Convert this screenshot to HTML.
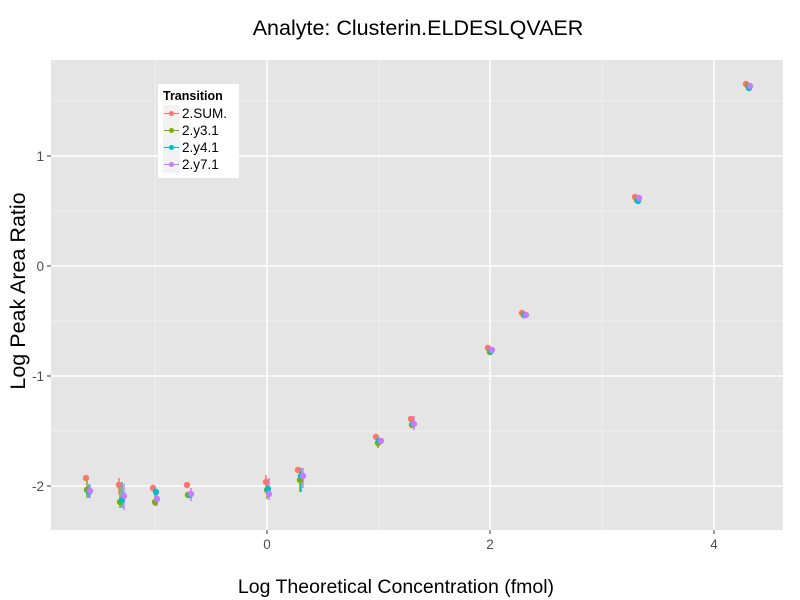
<!DOCTYPE html>
<html><head><meta charset="utf-8"><style>body{margin:0;background:#fff}svg{display:block}text{font-family:"Liberation Sans",sans-serif}</style></head><body>
<svg width="800" height="600" xmlns="http://www.w3.org/2000/svg">
<rect width="800" height="600" fill="#fff"/>
<text x="418" y="35" font-size="21.5" text-anchor="middle">Analyte: Clusterin.ELDESLQVAER</text>
<rect x="51" y="60" width="732" height="470" fill="#e5e5e5"/>
<g stroke="#f2f2f2" stroke-width="0.8">
<line x1="155" y1="60" x2="155" y2="530"/><line x1="379" y1="60" x2="379" y2="530"/><line x1="602" y1="60" x2="602" y2="530"/>
<line x1="51" y1="101" x2="783" y2="101"/><line x1="51" y1="211" x2="783" y2="211"/><line x1="51" y1="321" x2="783" y2="321"/><line x1="51" y1="431" x2="783" y2="431"/>
</g>
<g stroke="#fff" stroke-width="1.5">
<line x1="267" y1="60" x2="267" y2="530"/><line x1="490" y1="60" x2="490" y2="530"/><line x1="714" y1="60" x2="714" y2="530"/>
<line x1="51" y1="156" x2="783" y2="156"/><line x1="51" y1="266" x2="783" y2="266"/><line x1="51" y1="376" x2="783" y2="376"/><line x1="51" y1="486" x2="783" y2="486"/>
</g>
<g stroke="#333" stroke-width="1">
<line x1="267" y1="530" x2="267" y2="534"/><line x1="490" y1="530" x2="490" y2="534"/><line x1="714" y1="530" x2="714" y2="534"/>
<line x1="47" y1="156" x2="51" y2="156"/><line x1="47" y1="266" x2="51" y2="266"/><line x1="47" y1="376" x2="51" y2="376"/><line x1="47" y1="486" x2="51" y2="486"/>
</g>
<g font-size="13.5" fill="#4d4d4d">
<text x="267" y="549" text-anchor="middle">0</text><text x="490" y="549" text-anchor="middle">2</text><text x="714" y="549" text-anchor="middle">4</text>
<text x="44" y="161" text-anchor="end">1</text><text x="44" y="271" text-anchor="end">0</text><text x="44" y="381" text-anchor="end">-1</text><text x="44" y="491" text-anchor="end">-2</text>
</g>
<text x="396" y="593" font-size="19.5" text-anchor="middle">Log Theoretical Concentration (fmol)</text>
<text transform="translate(25,291) rotate(-90)" font-size="21.5" text-anchor="middle">Log Peak Area Ratio</text>
<g stroke-width="1.5">
<g stroke="#7CAE00"><line x1="87" y1="480" x2="87" y2="498"/><line x1="120" y1="486" x2="120" y2="508"/><line x1="155" y1="494" x2="155" y2="506"/><line x1="267" y1="482" x2="267" y2="499"/><line x1="300" y1="470" x2="300" y2="492"/><line x1="378" y1="438" x2="378" y2="448"/></g>
<g stroke="#00BFC4"><line x1="89" y1="484" x2="89" y2="498"/><line x1="122" y1="482" x2="122" y2="508"/><line x1="301" y1="468" x2="301" y2="492"/></g>
<g stroke="#C77CFF"><line x1="90" y1="485" x2="90" y2="498"/><line x1="124" y1="484" x2="124" y2="510"/><line x1="157" y1="492" x2="157" y2="506"/><line x1="191" y1="488" x2="191" y2="501"/><line x1="269" y1="478" x2="269" y2="500"/><line x1="303" y1="468" x2="303" y2="488"/><line x1="414" y1="416" x2="414" y2="430"/></g>
<g stroke="#F8766D"><line x1="119" y1="478" x2="119" y2="494"/><line x1="266" y1="475" x2="266" y2="488"/></g>
</g>
<g fill="#F8766D"><circle cx="86" cy="478" r="3.2"/><circle cx="119" cy="485" r="3.2"/><circle cx="153" cy="488" r="3.2"/><circle cx="187" cy="485" r="3.2"/><circle cx="266" cy="482" r="3.2"/><circle cx="298" cy="470" r="3.2"/><circle cx="376" cy="437" r="3.2"/><circle cx="411" cy="419" r="3.2"/><circle cx="488" cy="348" r="3.2"/><circle cx="522" cy="313" r="3.2"/><circle cx="635" cy="197" r="3.2"/><circle cx="746" cy="84" r="3.2"/></g>
<g fill="#7CAE00"><circle cx="87" cy="490" r="3.2"/><circle cx="120" cy="502" r="3.2"/><circle cx="155" cy="502" r="3.2"/><circle cx="188" cy="495" r="3.2"/><circle cx="267" cy="490" r="3.2"/><circle cx="300" cy="480" r="3.2"/><circle cx="378" cy="443" r="3.2"/><circle cx="412" cy="425" r="3.2"/><circle cx="490" cy="352" r="3.2"/><circle cx="524" cy="315" r="3.2"/><circle cx="637" cy="200" r="3.2"/><circle cx="748" cy="86" r="3.2"/></g>
<g fill="#00BFC4"><circle cx="89" cy="492" r="3.2"/><circle cx="122" cy="500" r="3.2"/><circle cx="156" cy="492" r="3.2"/><circle cx="190" cy="495" r="3.2"/><circle cx="268" cy="489" r="3.2"/><circle cx="301" cy="476" r="3.2"/><circle cx="379" cy="441" r="3.2"/><circle cx="413" cy="424" r="3.2"/><circle cx="491" cy="351" r="3.2"/><circle cx="525" cy="315" r="3.2"/><circle cx="638" cy="201" r="3.2"/><circle cx="749" cy="88" r="3.2"/></g>
<g fill="#C77CFF"><circle cx="90" cy="491" r="3.2"/><circle cx="124" cy="496" r="3.2"/><circle cx="157" cy="499" r="3.2"/><circle cx="191" cy="494" r="3.2"/><circle cx="269" cy="494" r="3.2"/><circle cx="303" cy="476" r="3.2"/><circle cx="381" cy="441" r="3.2"/><circle cx="414" cy="424" r="3.2"/><circle cx="492" cy="350" r="3.2"/><circle cx="526" cy="315" r="3.2"/><circle cx="639" cy="198" r="3.2"/><circle cx="750" cy="86" r="3.2"/></g>
<rect x="158" y="84" width="81" height="94" fill="#fff"/>
<text x="163" y="100" font-size="12.5" font-weight="bold">Transition</text>
<g font-size="13.5">
<rect x="163" y="105" width="17" height="17" fill="#f2f2f2"/><line x1="164" y1="113.5" x2="179" y2="113.5" stroke="#F8766D"/><circle cx="171.5" cy="113.5" r="2.5" fill="#F8766D"/><text x="182" y="118">2.SUM.</text>
<rect x="163" y="122" width="17" height="17" fill="#f2f2f2"/><line x1="164" y1="130.5" x2="179" y2="130.5" stroke="#7CAE00"/><circle cx="171.5" cy="130.5" r="2.5" fill="#7CAE00"/><text x="182" y="135">2.y3.1</text>
<rect x="163" y="139" width="17" height="17" fill="#f2f2f2"/><line x1="164" y1="147.5" x2="179" y2="147.5" stroke="#00BFC4"/><circle cx="171.5" cy="147.5" r="2.5" fill="#00BFC4"/><text x="182" y="152">2.y4.1</text>
<rect x="163" y="156" width="17" height="17" fill="#f2f2f2"/><line x1="164" y1="164.5" x2="179" y2="164.5" stroke="#C77CFF"/><circle cx="171.5" cy="164.5" r="2.5" fill="#C77CFF"/><text x="182" y="169">2.y7.1</text>
</g>
</svg>
</body></html>
